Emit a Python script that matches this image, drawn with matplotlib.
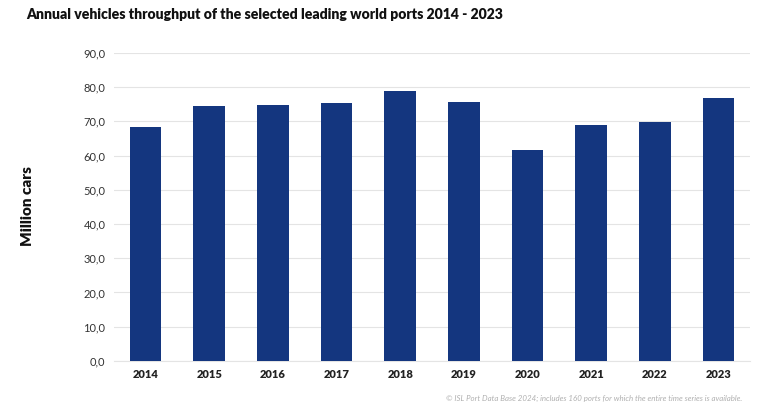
import matplotlib
matplotlib.use("Agg")
import matplotlib.pyplot as plt
import numpy as np

years = ["2014", "2015", "2016", "2017", "2018", "2019", "2020", "2021", "2022", "2023"]
cars = [68.4, 74.5, 74.9, 75.3, 79.0, 75.7, 61.7, 69.0, 69.8, 76.9]
yticks = [0, 10, 20, 30, 40, 50, 60, 70, 80, 90]

plt.rcParams['font.family'] = ['Lato', 'DejaVu Sans']

fig = plt.figure(figsize=(7.68, 4.13), dpi=100)
ax = fig.add_axes([0.148, 0.126, 0.829, 0.746])

x = np.arange(len(years))
ax.bar(x, cars, width=0.5, color="#14367f", zorder=3)

ax.set_ylim(0, 90)
ax.set_xlim(-0.5, len(years) - 0.5)
ax.set_yticks(yticks)
ax.set_yticklabels([f"{v:.1f}".replace(".", ",") for v in yticks], fontsize=8, color="#333333")
ax.set_xticks(x)
ax.set_xticklabels(years, fontsize=8, fontweight="heavy", color="#222222")
ax.grid(axis="y", color="#e4e4e4", linewidth=0.8, zorder=0)
ax.tick_params(length=0, pad=6)
for s in ["top", "right", "left"]:
    ax.spines[s].set_visible(False)
ax.spines["bottom"].set_color("#e4e4e4")

fig.text(0.036, 0.5, "Million cars", rotation=90, fontsize=11, fontweight="heavy",
         va="center", ha="center", color="#111111")
fig.text(0.034, 0.965, "Annual vehicles throughput of the selected leading world ports 2014 - 2023",
         fontsize=10.05, fontweight="heavy", va="center", ha="left", color="#111111")
fig.text(0.967, 0.036, "© ISL Port Data Base 2024; includes 160 ports for which the entire time series is available.",
         fontsize=5.7, style="italic", color="#b0b0b0", ha="right", va="center")

fig.savefig("out.png", dpi=100)
